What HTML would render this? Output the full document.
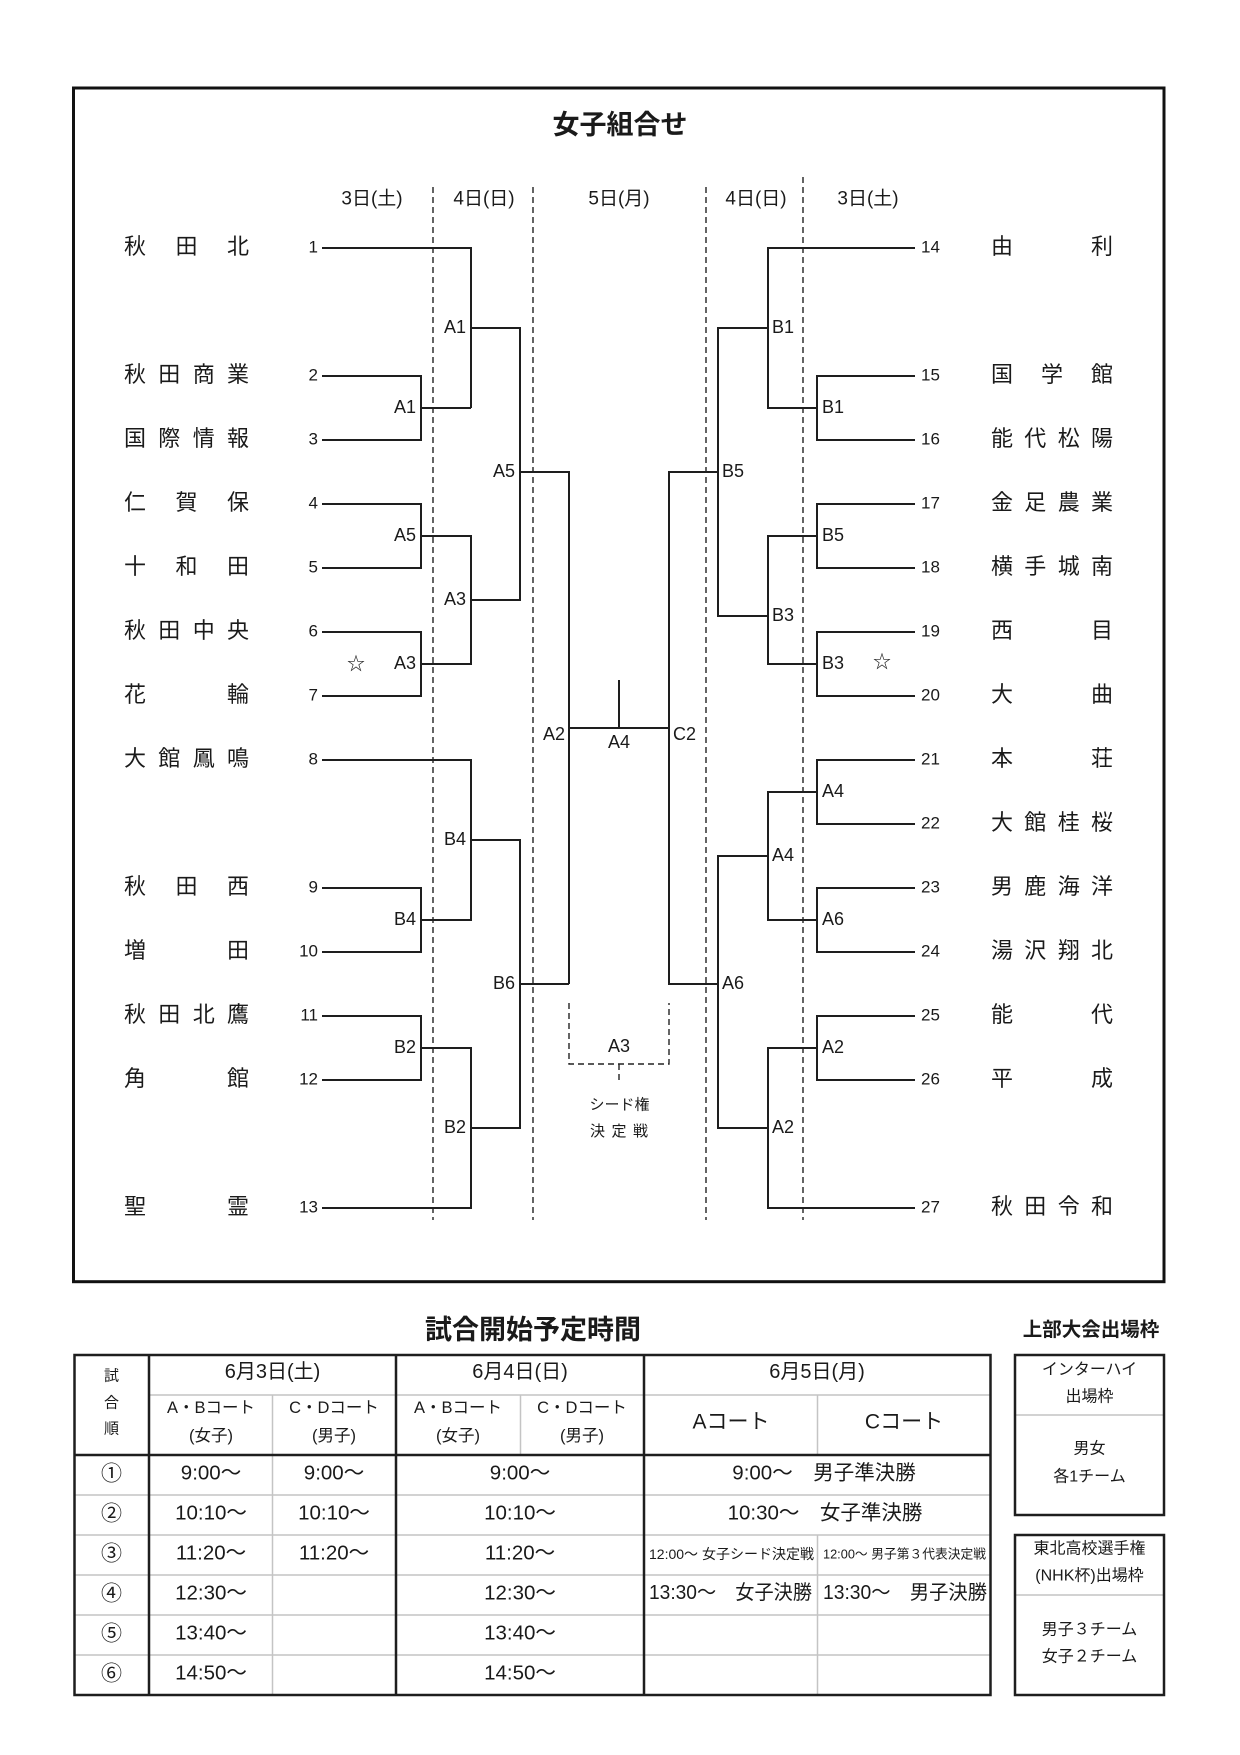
<!DOCTYPE html>
<html><head><meta charset="utf-8">
<style>
html,body{margin:0;padding:0;background:#fff;}
svg{display:block;}
text{font-family:"Liberation Sans","Noto Sans CJK JP",sans-serif;fill:#1a1a1a;}
</style></head>
<body>
<svg width="1240" height="1755" viewBox="0 0 1240 1755" xmlns="http://www.w3.org/2000/svg">
<rect x="0" y="0" width="1240" height="1755" fill="#fff"/>
<!-- outer box -->
<rect x="73.5" y="88" width="1090.5" height="1193.7" fill="none" stroke="#111" stroke-width="3"/>
<text x="620" y="125" font-size="27" font-weight="bold" text-anchor="middle" dominant-baseline="central">女子組合せ</text>

<!-- day headers -->
<g font-size="19" text-anchor="middle" dominant-baseline="central">
<text x="372" y="199">3日(土)</text>
<text x="484" y="199">4日(日)</text>
<text x="619" y="199">5日(月)</text>
<text x="756" y="199">4日(日)</text>
<text x="868" y="199">3日(土)</text>
</g>

<!-- dashed day separators -->
<g stroke="#222" stroke-width="1.4" stroke-dasharray="6,4" fill="none">
<path d="M433 187 V1220"/>
<path d="M533 187 V1220"/>
<path d="M706 187 V1220"/>
<path d="M803 177 V1220"/>
<path d="M569 1003 V1064 H669 V1003"/>
<path d="M619 1064 V1081"/>
</g>

<!-- bracket lines -->
<g stroke="#1e1e1e" stroke-width="2" fill="none">
<path d="M322 248 H471 V408"/>
<path d="M421 408 H471"/>
<path d="M322 376 H421 V440 H322"/>
<path d="M322 504 H421 V568 H322"/>
<path d="M421 536 H471 V664 H421"/>
<path d="M322 632 H421 V696 H322"/>
<path d="M471 328 H520 V600 H471"/>
<path d="M520 472 H569 V984"/>
<path d="M322 760 H471 V920 H421"/>
<path d="M322 888 H421 V952 H322"/>
<path d="M322 1016 H421 V1080 H322"/>
<path d="M421 1048 H471 V1208 H322"/>
<path d="M471 840 H520 V1128 H471"/>
<path d="M520 984 H569"/>
<path d="M569 728 H669"/>
<path d="M619 680 V728"/>

<path d="M915 248 H768 V408 H817"/>
<path d="M915 376 H817 V440 H915"/>
<path d="M915 504 H817 V568 H915"/>
<path d="M817 536 H768 V664 H817"/>
<path d="M915 632 H817 V696 H915"/>
<path d="M768 616 H718 V328 H768"/>
<path d="M718 472 H669 V984 H718"/>
<path d="M915 760 H817 V824 H915"/>
<path d="M817 792 H768 V920 H817"/>
<path d="M915 888 H817 V952 H915"/>
<path d="M768 856 H718 V1128 H768"/>
<path d="M915 1016 H817 V1080 H915"/>
<path d="M817 1048 H768 V1208 H915"/>
</g>

<!-- left team names -->
<g font-size="22" dominant-baseline="central">
<text y="246"><tspan x="124">秋</tspan><tspan x="175.5">田</tspan><tspan x="227">北</tspan></text>
<text y="374"><tspan x="124">秋</tspan><tspan x="158.3">田</tspan><tspan x="192.7">商</tspan><tspan x="227">業</tspan></text>
<text y="438"><tspan x="124">国</tspan><tspan x="158.3">際</tspan><tspan x="192.7">情</tspan><tspan x="227">報</tspan></text>
<text y="502"><tspan x="124">仁</tspan><tspan x="175.5">賀</tspan><tspan x="227">保</tspan></text>
<text y="566"><tspan x="124">十</tspan><tspan x="175.5">和</tspan><tspan x="227">田</tspan></text>
<text y="630"><tspan x="124">秋</tspan><tspan x="158.3">田</tspan><tspan x="192.7">中</tspan><tspan x="227">央</tspan></text>
<text y="694"><tspan x="124">花</tspan><tspan x="227">輪</tspan></text>
<text y="758"><tspan x="124">大</tspan><tspan x="158.3">館</tspan><tspan x="192.7">鳳</tspan><tspan x="227">鳴</tspan></text>
<text y="886"><tspan x="124">秋</tspan><tspan x="175.5">田</tspan><tspan x="227">西</tspan></text>
<text y="950"><tspan x="124">増</tspan><tspan x="227">田</tspan></text>
<text y="1014"><tspan x="124">秋</tspan><tspan x="158.3">田</tspan><tspan x="192.7">北</tspan><tspan x="227">鷹</tspan></text>
<text y="1078"><tspan x="124">角</tspan><tspan x="227">館</tspan></text>
<text y="1206"><tspan x="124">聖</tspan><tspan x="227">霊</tspan></text>
</g>

<!-- right team names -->
<g font-size="22" dominant-baseline="central">
<text y="246"><tspan x="991">由</tspan><tspan x="1091">利</tspan></text>
<text y="374"><tspan x="991">国</tspan><tspan x="1041">学</tspan><tspan x="1091">館</tspan></text>
<text y="438"><tspan x="991">能</tspan><tspan x="1024.3">代</tspan><tspan x="1057.7">松</tspan><tspan x="1091">陽</tspan></text>
<text y="502"><tspan x="991">金</tspan><tspan x="1024.3">足</tspan><tspan x="1057.7">農</tspan><tspan x="1091">業</tspan></text>
<text y="566"><tspan x="991">横</tspan><tspan x="1024.3">手</tspan><tspan x="1057.7">城</tspan><tspan x="1091">南</tspan></text>
<text y="630"><tspan x="991">西</tspan><tspan x="1091">目</tspan></text>
<text y="694"><tspan x="991">大</tspan><tspan x="1091">曲</tspan></text>
<text y="758"><tspan x="991">本</tspan><tspan x="1091">荘</tspan></text>
<text y="822"><tspan x="991">大</tspan><tspan x="1024.3">館</tspan><tspan x="1057.7">桂</tspan><tspan x="1091">桜</tspan></text>
<text y="886"><tspan x="991">男</tspan><tspan x="1024.3">鹿</tspan><tspan x="1057.7">海</tspan><tspan x="1091">洋</tspan></text>
<text y="950"><tspan x="991">湯</tspan><tspan x="1024.3">沢</tspan><tspan x="1057.7">翔</tspan><tspan x="1091">北</tspan></text>
<text y="1014"><tspan x="991">能</tspan><tspan x="1091">代</tspan></text>
<text y="1078"><tspan x="991">平</tspan><tspan x="1091">成</tspan></text>
<text y="1206"><tspan x="991">秋</tspan><tspan x="1024.3">田</tspan><tspan x="1057.7">令</tspan><tspan x="1091">和</tspan></text>
</g>

<!-- numbers left -->
<g font-size="17" text-anchor="end" dominant-baseline="central">
<text x="318" y="247">1</text>
<text x="318" y="375">2</text>
<text x="318" y="439">3</text>
<text x="318" y="503">4</text>
<text x="318" y="567">5</text>
<text x="318" y="631">6</text>
<text x="318" y="695">7</text>
<text x="318" y="759">8</text>
<text x="318" y="887">9</text>
<text x="318" y="951">10</text>
<text x="318" y="1015">11</text>
<text x="318" y="1079">12</text>
<text x="318" y="1207">13</text>
</g>
<!-- numbers right -->
<g font-size="17" dominant-baseline="central">
<text x="921" y="247">14</text>
<text x="921" y="375">15</text>
<text x="921" y="439">16</text>
<text x="921" y="503">17</text>
<text x="921" y="567">18</text>
<text x="921" y="631">19</text>
<text x="921" y="695">20</text>
<text x="921" y="759">21</text>
<text x="921" y="823">22</text>
<text x="921" y="887">23</text>
<text x="921" y="951">24</text>
<text x="921" y="1015">25</text>
<text x="921" y="1079">26</text>
<text x="921" y="1207">27</text>
</g>

<!-- match labels left -->
<g font-size="18" text-anchor="end" dominant-baseline="central">
<text x="416" y="407">A1</text>
<text x="416" y="535">A5</text>
<text x="416" y="663">A3</text>
<text x="416" y="919">B4</text>
<text x="416" y="1047">B2</text>
<text x="466" y="327">A1</text>
<text x="466" y="599">A3</text>
<text x="466" y="839">B4</text>
<text x="466" y="1127">B2</text>
<text x="515" y="471">A5</text>
<text x="515" y="983">B6</text>
<text x="565" y="734">A2</text>
</g>
<!-- match labels right -->
<g font-size="18" dominant-baseline="central">
<text x="822" y="407">B1</text>
<text x="822" y="535">B5</text>
<text x="822" y="663">B3</text>
<text x="822" y="791">A4</text>
<text x="822" y="919">A6</text>
<text x="822" y="1047">A2</text>
<text x="772" y="327">B1</text>
<text x="772" y="615">B3</text>
<text x="772" y="855">A4</text>
<text x="772" y="1127">A2</text>
<text x="722" y="471">B5</text>
<text x="722" y="983">A6</text>
<text x="673" y="734">C2</text>
</g>
<g font-size="18" text-anchor="middle" dominant-baseline="central">
<text x="619" y="742">A4</text>
<text x="619" y="1046">A3</text>
<text x="356" y="664">☆</text>
<text x="882" y="662">☆</text>
</g>
<g font-size="15" text-anchor="middle" dominant-baseline="central">
<text x="619.5" y="1105">シード権</text>
<text y="1131"><tspan x="597.5">決</tspan><tspan x="619">定</tspan><tspan x="640.5">戦</tspan></text>
</g>

<!-- schedule title -->
<text x="533" y="1330" font-size="27" font-weight="bold" text-anchor="middle" dominant-baseline="central">試合開始予定時間</text>
<text x="1091" y="1330" font-size="19.5" font-weight="bold" text-anchor="middle" dominant-baseline="central">上部大会出場枠</text>

<!-- table gray lines -->
<g stroke="#c4c4c4" stroke-width="1.5" fill="none">
<path d="M149 1395 H990.5"/>
<path d="M74.5 1495 H990.5 M74.5 1535 H990.5 M74.5 1575 H990.5 M74.5 1615 H990.5 M74.5 1655 H990.5"/>
<path d="M272.5 1395 V1695"/>
<path d="M520.5 1395 V1455"/>
<path d="M817.5 1395 V1455 M817.5 1535 V1695"/>
<path d="M1015 1415 H1164 M1015 1595 H1164"/>
</g>
<!-- table black lines -->
<g stroke="#1e1e1e" stroke-width="2.5" fill="none">
<rect x="74.5" y="1355" width="916" height="340"/>
<path d="M149 1355 V1695 M396 1355 V1695 M644 1355 V1695"/>
<path d="M74.5 1455 H990.5"/>
<rect x="1015" y="1355" width="149" height="160"/>
<rect x="1015" y="1535" width="149" height="160"/>
</g>

<!-- table header text -->
<g font-size="15" text-anchor="middle" dominant-baseline="central">
<text x="111.5" y="1376">試</text>
<text x="111.5" y="1403">合</text>
<text x="111.5" y="1429">順</text>
</g>
<g font-size="20" text-anchor="middle" dominant-baseline="central">
<text x="272.5" y="1372">6月3日(土)</text>
<text x="520" y="1372">6月4日(日)</text>
<text x="817" y="1372">6月5日(月)</text>
</g>
<g font-size="16.5" text-anchor="middle" dominant-baseline="central">
<text x="211" y="1408">A・Bコート</text>
<text x="211" y="1436">(女子)</text>
<text x="334" y="1408">C・Dコート</text>
<text x="334" y="1436">(男子)</text>
<text x="458" y="1408">A・Bコート</text>
<text x="458" y="1436">(女子)</text>
<text x="582" y="1408">C・Dコート</text>
<text x="582" y="1436">(男子)</text>
</g>
<g font-size="21" text-anchor="middle" dominant-baseline="central">
<text x="731" y="1422">Aコート</text>
<text x="904" y="1422">Cコート</text>
</g>

<!-- table body -->
<g font-size="21" text-anchor="middle" dominant-baseline="central">
<text x="111.5" y="1474">①</text>
<text x="111.5" y="1514">②</text>
<text x="111.5" y="1554">③</text>
<text x="111.5" y="1594">④</text>
<text x="111.5" y="1634">⑤</text>
<text x="111.5" y="1674">⑥</text>
</g>
<g font-size="20.5" text-anchor="middle" dominant-baseline="central">
<text x="211" y="1473">9:00～</text>
<text x="211" y="1513">10:10～</text>
<text x="211" y="1553">11:20～</text>
<text x="211" y="1593">12:30～</text>
<text x="211" y="1633">13:40～</text>
<text x="211" y="1673">14:50～</text>
<text x="334" y="1473">9:00～</text>
<text x="334" y="1513">10:10～</text>
<text x="334" y="1553">11:20～</text>
<text x="520" y="1473">9:00～</text>
<text x="520" y="1513">10:10～</text>
<text x="520" y="1553">11:20～</text>
<text x="520" y="1593">12:30～</text>
<text x="520" y="1633">13:40～</text>
<text x="520" y="1673">14:50～</text>
<text x="824" y="1473">9:00～　男子準決勝</text>
<text x="825" y="1513">10:30～　女子準決勝</text>
</g>
<g dominant-baseline="central">
<text x="649" y="1554" font-size="14" textLength="165" lengthAdjust="spacingAndGlyphs">12:00～ 女子シード決定戦</text>
<text x="823" y="1554" font-size="13" textLength="163" lengthAdjust="spacingAndGlyphs">12:00～ 男子第３代表決定戦</text>
<text x="649" y="1593" font-size="20" textLength="163" lengthAdjust="spacingAndGlyphs">13:30～　女子決勝</text>
<text x="823" y="1593" font-size="20" textLength="164" lengthAdjust="spacingAndGlyphs">13:30～　男子決勝</text>
</g>

<!-- right boxes text -->
<g font-size="16" text-anchor="middle" dominant-baseline="central">
<text x="1089.5" y="1370">インターハイ</text>
<text x="1089.5" y="1397">出場枠</text>
<text x="1089.5" y="1449">男女</text>
<text x="1089.5" y="1477">各1チーム</text>
<text x="1089.5" y="1549">東北高校選手権</text>
<text x="1089.5" y="1576">(NHK杯)出場枠</text>
<text x="1089.5" y="1630">男子３チーム</text>
<text x="1089.5" y="1657">女子２チーム</text>
</g>
</svg>
</body></html>
